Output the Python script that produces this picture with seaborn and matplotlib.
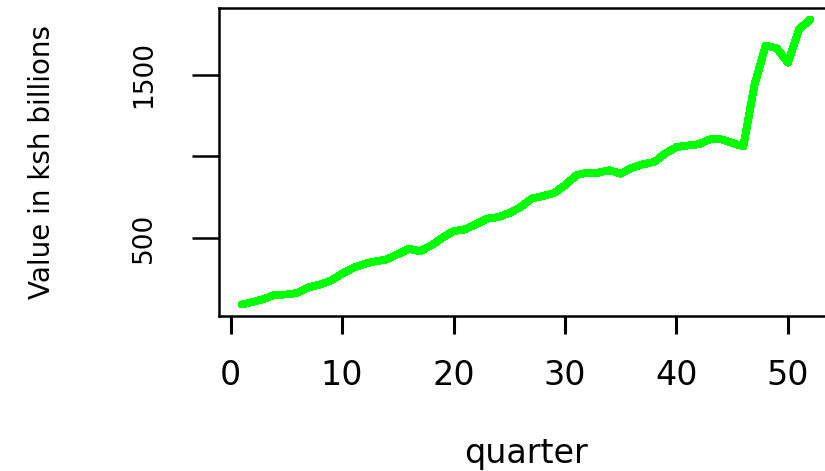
import numpy as np
import pandas as pd
import matplotlib
matplotlib.use("Agg")
import matplotlib.pyplot as plt
import seaborn as sns

# quarterly values (ksh billions)
quarter = list(range(1, 53))
value = [90, 106, 125, 151, 152, 162, 196, 213, 237, 279,
         315, 340, 356, 367, 399, 432, 418, 453, 500, 541,
         551, 582, 617, 627, 651, 688, 740, 756, 774, 822,
         883, 900, 900, 914, 893, 930, 951, 965, 1017, 1057,
         1066, 1074, 1104, 1104, 1082, 1061, 1440, 1680, 1662, 1575,
         1780, 1840]

x_ticks = [0, 10, 20, 30, 40, 50]
y_ticks = [500, 1000, 1500]
y_tick_labels = ["500", "", "1500"]

df = pd.DataFrame({"quarter": quarter, "value": value})

sns.set_style("ticks")
plt.rcParams["font.family"] = ["DejaVu Sans"]
plt.rcParams["text.color"] = "black"
plt.rcParams["axes.labelcolor"] = "black"

fig = plt.figure(figsize=(8.25, 4.71), dpi=100)
ax = fig.add_axes([219 / 825, 155 / 471, 614 / 825, 308 / 471])

sns.lineplot(data=df, x="quarter", y="value", color="#00ff00",
             linewidth=5, antialiased=False, ax=ax)

# R-style 4% padding on both axes
xr = df["quarter"].max() - df["quarter"].min()
yr = df["value"].max() - df["value"].min()
ax.set_xlim(df["quarter"].min() - 0.04 * xr, df["quarter"].max() + 0.04 * xr)
ax.set_ylim(df["value"].min() - 0.04 * yr, df["value"].max() + 0.04 * yr)

ax.set_xticks(x_ticks)
ax.set_yticks(y_ticks)
ax.set_yticklabels(y_tick_labels)

for s in ax.spines.values():
    s.set_visible(True)
    s.set_linewidth(1.8)
    s.set_color("black")

ax.tick_params(axis="x", length=13, width=2.2, pad=18, labelsize=24,
               colors="black", labelcolor="black")
ax.tick_params(axis="y", length=19.5, width=1.8, pad=25, labelsize=19,
               labelrotation=90, colors="black", labelcolor="black")
for lab in ax.get_yticklabels():
    lab.set_va("center")

ax.set_xlabel("quarter", fontsize=24, color="black")
ax.set_ylabel("Value in ksh billions", fontsize=20, color="black")
ax.xaxis.set_label_coords(0.5, -0.393)
ax.yaxis.set_label_coords(-0.265, 0.5)

fig.savefig("out.png", dpi=100)
